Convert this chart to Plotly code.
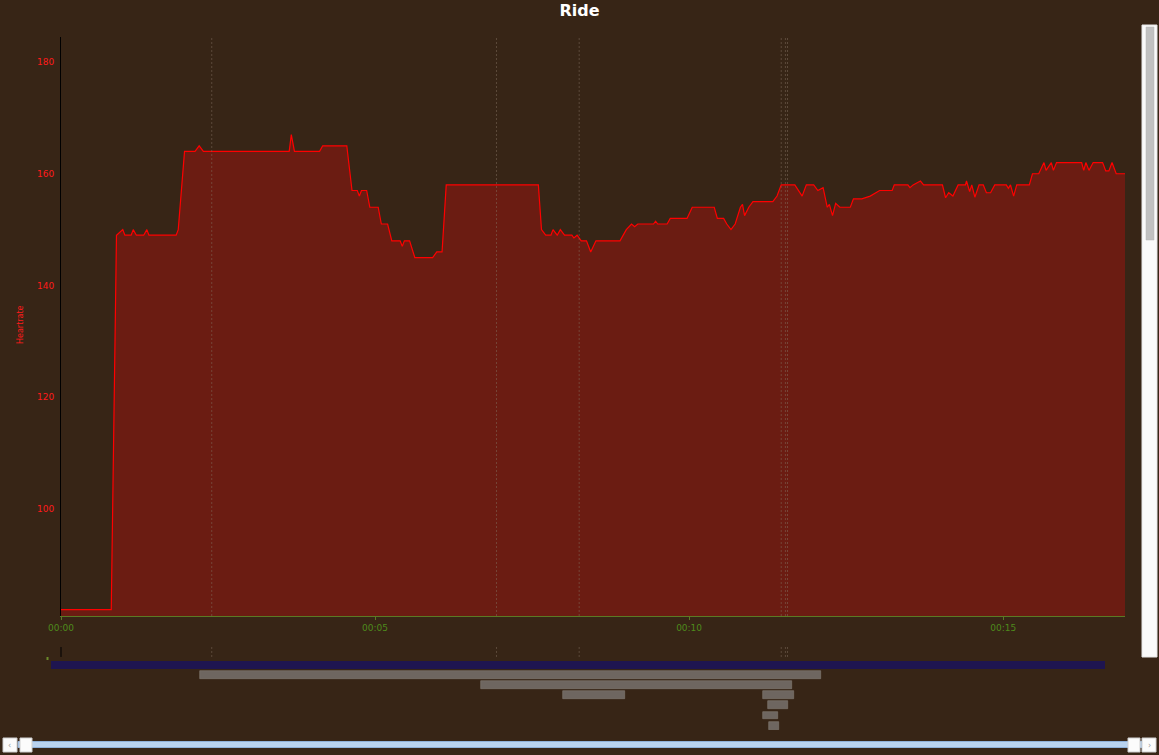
import plotly.graph_objects as go

# ---------------- data ----------------
time_s = [0, 48, 53, 59, 61, 67, 69, 72, 79, 82, 84, 110, 112, 118, 128, 132, 136, 218, 220, 223,
          247, 250, 273, 278, 283, 285, 287, 292, 295, 303, 306, 312, 316, 324, 326, 328, 333, 338,
          355, 359, 364, 368, 456, 459, 463, 468, 470, 474, 477, 481, 488, 490, 493, 497, 502, 506,
          511, 534, 540, 545, 548, 551, 566, 568, 570, 579, 582, 598, 603, 624, 627, 633, 636, 640,
          644, 649, 651, 653, 657, 661, 680, 684, 688, 701, 708, 712, 719, 723, 728, 732, 734, 737,
          740, 744, 754, 757, 761, 765, 773, 778, 782, 794, 796, 809, 811, 814, 821, 824, 842, 845,
          848, 852, 857, 864, 865, 868, 870, 873, 877, 881, 884, 888, 892, 903, 905, 907, 910, 913,
          925, 928, 934, 939, 941, 946, 948, 951, 975, 977, 979, 982, 986, 995, 998, 1001, 1004,
          1008, 1017]
heartrate = [82, 82, 149, 150, 149, 149, 150, 149, 149, 150, 149, 149, 150, 164, 164, 165, 164, 164,
             167, 164, 164, 165, 165, 157, 157, 156, 157, 157, 154, 154, 151, 151, 148, 148, 147, 148,
             148, 145, 145, 146, 146, 158, 158, 150, 149, 149, 150, 149, 150, 149, 149, 148.5, 149,
             148, 148, 146, 148, 148, 150, 151, 150.5, 151, 151, 151.5, 151, 151, 152, 152, 154, 154,
             152, 152, 151, 150, 151, 154, 154.5, 152.5, 154, 155, 155, 156, 158, 158, 156, 158, 158,
             157, 157.5, 154, 154.5, 152.5, 154.7, 154, 154, 155.5, 155.5, 155.5, 156, 156.5, 157,
             157, 158, 158, 157.5, 158, 158.7, 158, 158, 155.7, 156.6, 156, 158, 158, 158.7, 156.8,
             158, 155.8, 158, 158, 156.6, 156.6, 158, 158, 157.4, 158, 156, 158, 158, 160, 160, 162,
             160.6, 162, 160.6, 162, 162, 160.6, 162, 160.6, 162, 162, 160.5, 160.5, 162, 160, 160]

marker_s = [144, 416, 495, 688, 692, 694]

ride_start_s = [-10]
ride_end_s = [997]

interval_start_s = [133, 401, 480, 671, 675, 671, 676]
interval_end_s = [726, 698, 539, 700, 694, 685, 686]
interval_row = [1, 2, 3, 3, 4, 5, 6]

y_ticks = [100, 120, 140, 160, 180]
x_tick_min = [0, 5, 10, 15]
x_tick_labels = ["00:00", "00:05", "00:10", "00:15"]

# ---------------- style ----------------
BG = "#372516"
FILL = "#6b1c12"
LINE = "#ff0000"
OLIVE = "#5a7a24"
OLIVE_TXT = "#4e8a1c"
DASH = "rgba(130,112,96,0.5)"
GRAY_BAR = "#6e6660"
BLUE_BAR = "#1e1550"
FONT = "DejaVu Sans"

W, H = 1159, 755
ML, MR, MT, MB = 40, 34, 37, 25
PW, PH = W - ML - MR, H - MT - MB

def px(x):
    return (x - ML) / PW

def py(y):
    return (H - MB - y) / PH

t_min = [s / 60 for s in time_s]
x_end = 16.94
main_dom = [px(61), 1]
x2_start = -(main_dom[0] * PW) * x_end / ((1 - main_dom[0]) * PW)

fig = go.Figure()

fig.add_trace(go.Scatter(
    x=t_min, y=heartrate, mode="lines",
    line=dict(color=LINE, width=1.2),
    fill="tozeroy", fillcolor=FILL,
    xaxis="x", yaxis="y", hoverinfo="skip", showlegend=False,
))

# ride bar
fig.add_trace(go.Bar(
    y=[0], base=[s / 60 for s in ride_start_s],
    x=[(e - s) / 60 for s, e in zip(ride_start_s, ride_end_s)],
    orientation="h", width=0.8, marker=dict(color=BLUE_BAR, line=dict(width=0)),
    xaxis="x2", yaxis="y2", showlegend=False, hoverinfo="skip",
))
# interval bars
fig.add_trace(go.Bar(
    y=interval_row, base=[s / 60 for s in interval_start_s],
    x=[(e - s) / 60 for s, e in zip(interval_start_s, interval_end_s)],
    orientation="h", width=0.78,
    marker=dict(color=GRAY_BAR, line=dict(color="#857c76", width=0.6)),
    xaxis="x2", yaxis="y2", showlegend=False, hoverinfo="skip",
))

shapes = []
for s in marker_s:
    m = s / 60
    shapes.append(dict(type="line", xref="x", yref="y domain", x0=m, x1=m, y0=0, y1=1,
                       line=dict(color=DASH, width=1, dash="2px,2px"), layer="above"))
    shapes.append(dict(type="line", xref="x2", yref="y2 domain", x0=m, x1=m, y0=0.88, y1=1,
                       line=dict(color=DASH, width=1, dash="2px,2px")))
# axis stub in lower strip
shapes.append(dict(type="line", xref="x2", yref="y2 domain", x0=0, x1=0, y0=0.88, y1=1,
                   line=dict(color="#000000", width=1)))
# tiny green marker
shapes.append(dict(type="rect", xref="paper", yref="paper", x0=px(46.5), x1=px(48.5),
                   y0=py(660), y1=py(657), line=dict(width=0), fillcolor="#6a8a2a"))

# right scrollbar (UI chrome)
shapes.append(dict(type="rect", xref="paper", yref="paper", x0=px(1142), x1=px(1157),
                   y0=py(657), y1=py(25), fillcolor="#fafafa", line=dict(color="#e6e6e6", width=1)))
shapes.append(dict(type="rect", xref="paper", yref="paper", x0=px(1146), x1=px(1154),
                   y0=py(240), y1=py(27), fillcolor="#c1c1c1", line=dict(color="#b5b5b5", width=0.5)))
# bottom scrollbar
shapes.append(dict(type="rect", xref="paper", yref="paper", x0=px(18), x1=px(1142),
                   y0=py(747.5), y1=py(741.5), fillcolor="#b9d2ee", line=dict(color="#8fb0d8", width=1)))
for a, b in [(3, 17), (20, 32), (1128, 1140), (1142, 1156)]:
    shapes.append(dict(type="rect", xref="paper", yref="paper", x0=px(a), x1=px(b),
                       y0=py(752), y1=py(738), fillcolor="#fbfbfb", line=dict(color="#cfcfcf", width=1)))

annotations = [
    dict(text="Heartrate", xref="paper", yref="paper", x=px(20), y=py(325), textangle=-90,
         showarrow=False, font=dict(family=FONT, size=8, color="#ff1a1a"),
         xanchor="center", yanchor="middle"),
    dict(text="‹", xref="paper", yref="paper", x=px(10), y=py(745), showarrow=False,
         font=dict(family=FONT, size=8, color="#9a9a9a"), xanchor="center", yanchor="middle"),
    dict(text="›", xref="paper", yref="paper", x=px(1149), y=py(745), showarrow=False,
         font=dict(family=FONT, size=8, color="#9a9a9a"), xanchor="center", yanchor="middle"),
]

fig.update_layout(
    width=W, height=H,
    margin=dict(l=ML, r=MR, t=MT, b=MB),
    paper_bgcolor=BG, plot_bgcolor=BG,
    title=dict(text="<b>Ride</b>", x=0.5, xref="container", y=1 - 10 / H, yref="container",
               xanchor="center", yanchor="middle",
               font=dict(family=FONT, size=16, color="#ffffff")),
    xaxis=dict(domain=main_dom, range=[0, x_end], anchor="y",
               tickvals=x_tick_min, ticktext=x_tick_labels,
               showgrid=False, zeroline=False, showline=True, linecolor=OLIVE, linewidth=1,
               ticks="outside", ticklen=3, tickcolor=OLIVE,
               tickfont=dict(family=FONT, size=9, color=OLIVE_TXT)),
    yaxis=dict(domain=[py(616), 1], range=[80.85, 184.47], anchor="x",
               tickvals=y_ticks, showgrid=False, zeroline=False,
               showline=True, linecolor="#000000", linewidth=1,
               ticks="outside", ticklen=4, tickcolor="rgba(0,0,0,0)",
               tickfont=dict(family=FONT, size=9, color="#ff1a1a")),
    xaxis2=dict(domain=[0, 1], range=[x2_start, x_end], anchor="y2",
                showgrid=False, zeroline=False, showline=False, showticklabels=False, ticks=""),
    yaxis2=dict(domain=[0, py(647)], range=[6.44, -1.78], anchor="x2",
                showgrid=False, zeroline=False, showline=False, showticklabels=False, ticks=""),
    bargap=0, barmode="overlay",
    shapes=shapes, annotations=annotations,
)

fig.write_html("out.html")
